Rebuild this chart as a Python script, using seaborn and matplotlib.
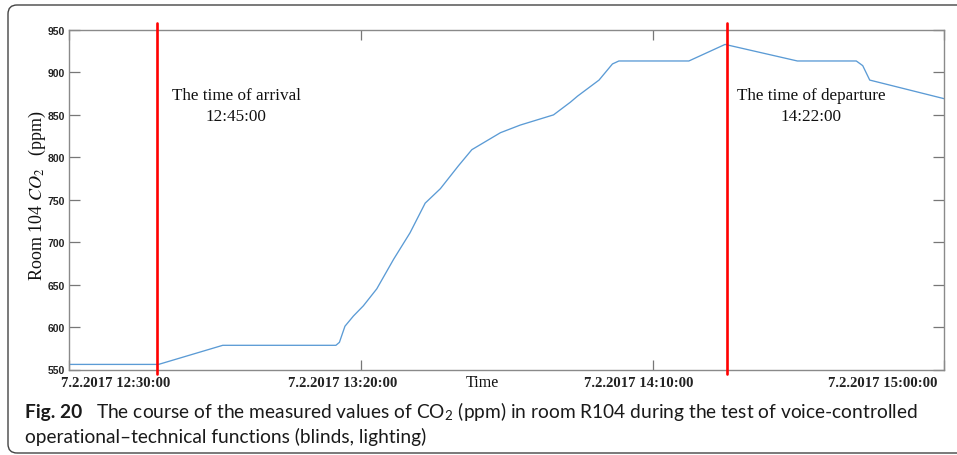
import matplotlib
matplotlib.use("Agg")
import matplotlib.pyplot as plt
import matplotlib.transforms as mtransforms
from matplotlib.patches import FancyBboxPatch
import seaborn as sns
import pandas as pd

# ---- data (minutes after 7.2.2017 12:30:00, CO2 ppm) ----
minutes = [0, 15.3, 26.3, 45.7, 46.3, 47.25, 48.7, 50.4, 52.7, 55.6, 58.4, 61.0,
           63.6, 66.7, 69.0, 73.9, 77.3, 83.0, 85.9, 87.1, 90.8, 93.1, 94.2,
           106.2, 112.4, 124.8, 134.9, 136.0, 137.2, 150]
co2 = [556, 556, 578.5, 578.5, 582, 601, 613, 625, 645, 680, 711, 746,
       763, 790, 809, 829, 838, 850, 865, 872, 891, 910, 913.5,
       913.5, 933, 913.5, 913.5, 908, 891, 869]
tick_minutes = [0, 50, 100, 150]
tick_labels = ["7.2.2017 12:30:00", "7.2.2017 13:20:00",
               "7.2.2017 14:10:00", "7.2.2017 15:00:00"]
y_ticks = [550, 600, 650, 700, 750, 800, 850, 900, 950]
event_minutes = [15.0, 112.7]
event_labels = ["The time of arrival\n12:45:00", "The time of departure\n14:22:00"]
event_label_pos = [(28.6, 861), (127.2, 861)]

df = pd.DataFrame({"minute": minutes, "co2": co2})

sns.set_theme(style="white")
plt.rcParams["mathtext.fontset"] = "stix"
plt.rcParams["font.family"] = ["Liberation Serif", "DejaVu Serif"]

W, H, DPI = 957, 456, 100
fig = plt.figure(figsize=(W / DPI, H / DPI), dpi=DPI)
ax = fig.add_axes([69.3 / W, 1 - 370.5 / H, (944.4 - 69.3) / W, (370.5 - 31) / H])

sns.lineplot(data=df, x="minute", y="co2", ax=ax, color="#5B9BD5", linewidth=0.95)

for m in event_minutes:
    ax.axvline(m, ymin=-0.013, ymax=1.021, color="#FF0000", linewidth=1.9,
               clip_on=False, zorder=5)
for (tx, ty), lab in zip(event_label_pos, event_labels):
    ax.text(tx, ty, lab, ha="center", va="center", multialignment="center",
            fontsize=12.3, family=["Liberation Serif"], color="#111111",
            linespacing=1.38)

ax.set_xlim(0, 150)
ax.set_ylim(550, 950)
ax.set_xticks(tick_minutes)
ax.set_xticklabels(tick_labels, fontsize=10.6, fontweight="bold",
                   family=["Liberation Serif"], color="#222222")
ax.set_yticks(y_ticks)
ax.set_yticklabels([str(v) for v in y_ticks], fontsize=7.5, fontweight="bold",
                   family=["Liberation Sans"], color="#222222")
ax.tick_params(axis="x", direction="in", length=7, width=0.9, color="#777777",
               top=True, bottom=True, pad=5)
ax.tick_params(axis="y", direction="in", length=8, width=0.9, color="#777777",
               left=True, right=True, pad=3)

# per-label alignment like the reference
aligns = ["left", "center", "center", "right"]
shifts = [-6, -13, -10, -5]
for lab, al, dx in zip(ax.get_xticklabels(), aligns, shifts):
    lab.set_ha(al)
    lab.set_transform(lab.get_transform() +
                      mtransforms.ScaledTranslation(dx / 72, 0, fig.dpi_scale_trans))

for sp in ax.spines.values():
    sp.set_visible(True)
    sp.set_color("#8a8a8a")
    sp.set_linewidth(1.0)

ax.set_xlabel("Time", fontsize=11.5, family=["Liberation Serif"], color="#111111")
ax.xaxis.label.set_va("center")
ax.xaxis.set_label_coords((482 - 69.3) / 875.1, (370.5 - 383.5) / 339.5)
ax.set_ylabel(r"Room 104 $\mathit{CO}_2$   (ppm)", fontsize=13,
              family=["Liberation Serif"], color="#111111")
ax.yaxis.label.set_va("center")
ax.yaxis.set_label_coords((37.5 - 69.3) / 875.1, (370.5 - 196) / 339.5)

# ---- caption ----
cap_font = ["Lato", "DejaVu Sans"]
bold_t = fig.text(25 / W, 1 - 418 / H, "Fig. 20", fontsize=13, fontweight="bold",
                  family=cap_font, va="baseline", color="#1a1a1a")
line1 = fig.text(100 / W, 1 - 418 / H,
                 r"The course of the measured values of CO$_{\mathregular{2}}$ (ppm) in room R104 during the test of voice-controlled",
                 fontsize=13, family=cap_font, va="baseline", color="#1a1a1a")
line2 = fig.text(25 / W, 1 - 443 / H,
                 "operational\u2013technical functions (blinds, lighting)",
                 fontsize=13, family=cap_font, va="baseline", color="#1a1a1a")
fig.canvas.draw()
r = fig.canvas.get_renderer()
wid = line1.get_window_extent(r).width
fs = 13 * (922 - 100) / wid
for t in (bold_t, line1, line2):
    t.set_fontsize(fs)
fig.canvas.draw()
bw = bold_t.get_window_extent(r).x1
line1.set_x((bw + 14) / W)

# ---- rounded frame ----
frame = FancyBboxPatch((8, 2), 980, 448, boxstyle="round,pad=0,rounding_size=9",
                       transform=mtransforms.IdentityTransform(), fill=False,
                       edgecolor="#444444", linewidth=1.0)
fig.patches.append(frame)

fig.savefig("out.png", dpi=DPI)
